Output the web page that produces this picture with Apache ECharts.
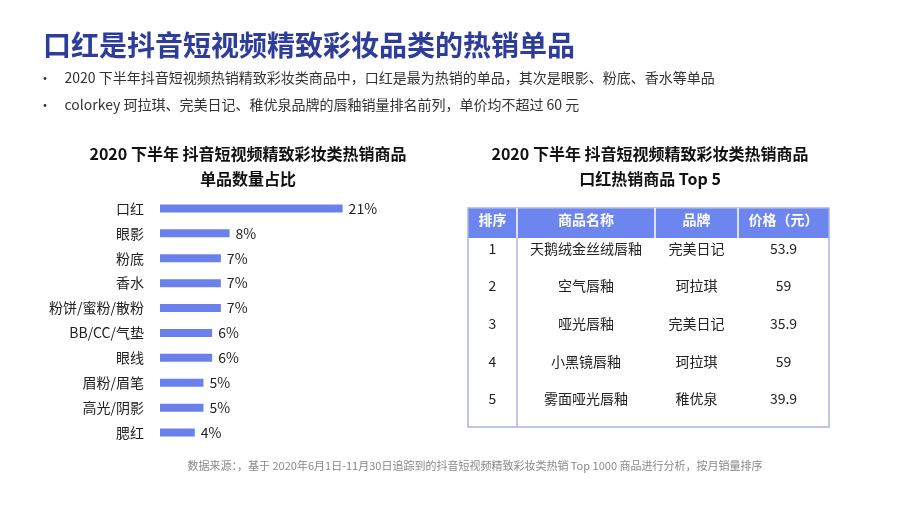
<!DOCTYPE html>
<html><head><meta charset="utf-8">
<script src="https://cdn.jsdelivr.net/npm/echarts@6/dist/echarts.min.js"></script>
<style>html,body{margin:0;background:#fff}#main{width:920px;height:518px}</style>
</head><body><div id="main"></div>
<script>
var FONT = '"Noto Sans CJK SC", sans-serif';
// 左图：单品数量占比
var categories = ['口红', '眼影', '粉底', '香水', '粉饼/蜜粉/散粉', 'BB/CC/气垫', '眼线', '眉粉/眉笔', '高光/阴影', '腮红'];
var shares = [21, 8, 7, 7, 7, 6, 6, 5, 5, 4];
// 右表：口红 Top 5
var tableHeader = ['排序', '商品名称', '品牌', '价格（元）'];
var ranks = ['1', '2', '3', '4', '5'];
var products = ['天鹅绒金丝绒唇釉', '空气唇釉', '哑光唇釉', '小黑镜唇釉', '雾面哑光唇釉'];
var brands = ['完美日记', '珂拉琪', '完美日记', '珂拉琪', '稚优泉'];
var prices = ['53.9', '59', '35.9', '59', '39.9'];

var myChart = echarts.init(document.getElementById('main'));

// 表格用 graphic 画
var g = [];
var colX = [468, 517, 655, 738, 829];
var headTop = 208, headH = 30, rowH = 37.6, tableBottom = 427;
var headBlue = '#6d86ef', lineBlue = '#aab4e6';
g.push({type: 'rect', shape: {x: colX[0], y: headTop, width: colX[4] - colX[0], height: headH}, style: {fill: headBlue}});
for (var c = 0; c < 4; c++) {
    g.push({type: 'text', x: (colX[c] + colX[c + 1]) / 2, y: headTop + 12,
        style: {text: tableHeader[c], fill: '#fff', font: 'bold 14px ' + FONT, align: 'center', verticalAlign: 'middle'}});
    if (c > 0) g.push({type: 'line', shape: {x1: colX[c], y1: headTop, x2: colX[c], y2: headTop + headH}, style: {stroke: '#fff', lineWidth: 1.5}, z: 10});
}
var cols = [ranks, products, brands, prices];
for (var r = 0; r < ranks.length; r++) {
    var cy = 248.5 + rowH * r;
    for (var c = 0; c < 4; c++) {
        g.push({type: 'text', x: (colX[c] + colX[c + 1]) / 2, y: cy,
            style: {text: cols[c][r], fill: '#222', font: '14px ' + FONT, align: 'center', verticalAlign: 'middle'}});
    }
}
g.push({type: 'rect', shape: {x: colX[0], y: headTop, width: colX[4] - colX[0], height: tableBottom - headTop}, style: {fill: 'none', stroke: lineBlue, lineWidth: 1.5}});
g.push({type: 'line', shape: {x1: colX[1], y1: headTop + headH, x2: colX[1], y2: tableBottom}, style: {stroke: lineBlue, lineWidth: 1.5}});

var option = {
    textStyle: {fontFamily: FONT},
    title: [
        {text: '口红是抖音短视频精致彩妆品类的热销单品', left: 38, top: 26, textStyle: {color: '#2e3d9c', fontSize: 28, fontWeight: 'bold', fontFamily: FONT}},
        {text: '2020 下半年 抖音短视频精致彩妆类热销商品\n单品数量占比', left: 243, top: 136, textAlign: 'center',
            textStyle: {fontSize: 16, fontWeight: 'bold', color: '#111', lineHeight: 25, fontFamily: FONT}},
        {text: '2020 下半年 抖音短视频精致彩妆类热销商品\n口红热销商品 Top 5', left: 645, top: 136, textAlign: 'center',
            textStyle: {fontSize: 16, fontWeight: 'bold', color: '#111', lineHeight: 25, fontFamily: FONT}},
        {text: '数据来源：，基于 2020年6月1日-11月30日追踪到的抖音短视频精致彩妆类热销 Top 1000 商品进行分析，按月销量排序', left: 470, top: 455, textAlign: 'center',
            textStyle: {fontSize: 11, fontWeight: 'normal', color: '#888', fontFamily: FONT}}
    ],
    graphic: [
        {type: 'text', left: 38, top: 71, style: {text: '•    2020 下半年抖音短视频热销精致彩妆类商品中，口红是最为热销的单品，其次是眼影、粉底、香水等单品', fill: '#333', font: '14px ' + FONT}},
        {type: 'text', left: 38, top: 98, style: {text: '•    colorkey 珂拉琪、完美日记、稚优泉品牌的唇釉销量排名前列，单价均不超过 60 元', fill: '#333', font: '14px ' + FONT}}
    ].concat(g),
    grid: {left: 160, top: 196, width: 200, height: 249},
    xAxis: {type: 'value', min: 0, max: 23, show: false},
    yAxis: {type: 'category', data: categories, inverse: true,
        axisLine: {show: false}, axisTick: {show: false},
        axisLabel: {color: '#222', fontSize: 14, margin: 16}},
    series: [{
        type: 'bar', data: shares, barWidth: 8,
        itemStyle: {color: '#6a80ea'},
        label: {show: true, position: 'right', formatter: '{c}%', color: '#222', fontSize: 14, distance: 6}
    }]
};
myChart.setOption(option);
</script></body></html>
